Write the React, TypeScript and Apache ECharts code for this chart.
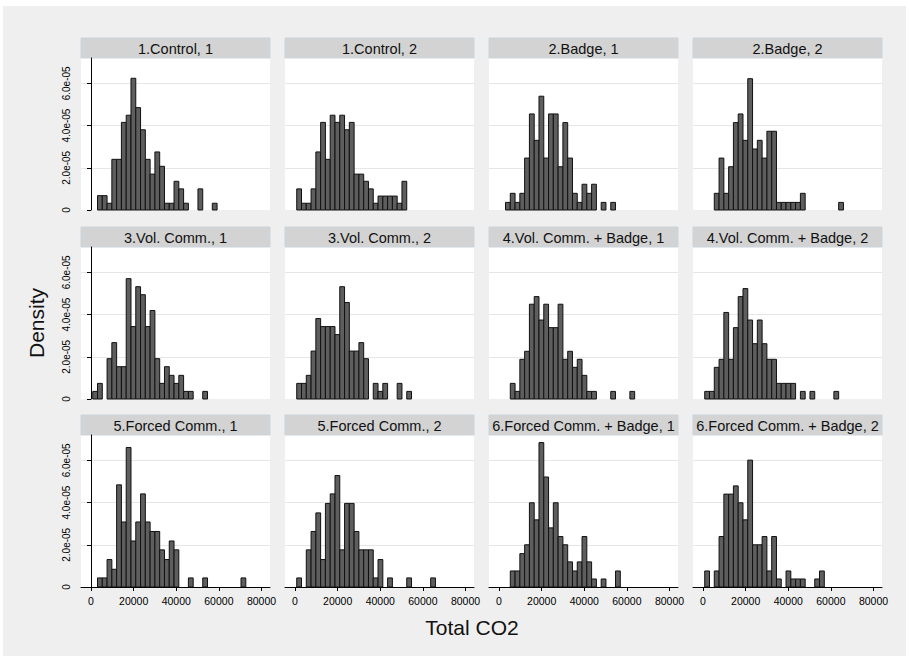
import React, { useEffect, useRef } from "react";
import * as echarts from "echarts";

// ---- Histogram definition (Total CO2), common bins for every panel ----
const BIN_START = 800;
const BIN_WIDTH = 2245;

const panelTitles = [
  "1.Control, 1",
  "1.Control, 2",
  "2.Badge, 1",
  "2.Badge, 2",
  "3.Vol. Comm., 1",
  "3.Vol. Comm., 2",
  "4.Vol. Comm. + Badge, 1",
  "4.Vol. Comm. + Badge, 2",
  "5.Forced Comm., 1",
  "5.Forced Comm., 2",
  "6.Forced Comm. + Badge, 1",
  "6.Forced Comm. + Badge, 2",
];

// index of the first bin listed for each panel
const firstBin = [1, 0, 1, 2, 0, 0, 2, 0, 1, 0, 2, 0];

// densities, in units of 1e-05, bin by bin
const control1 = [0.68, 0.68, 0.32, 2.4, 2.4, 4.15, 4.49, 6.24, 4.85, 3.8, 2.4, 1.7, 2.75, 2.07, 0.32, 0.32, 1.36, 1.0, 0.32, 0, 0, 1.0, 0, 0, 0.32];
const control2 = [1.0, 0.32, 0.32, 1.0, 2.75, 4.15, 2.4, 4.49, 4.15, 4.49, 3.8, 4.15, 1.7, 1.7, 1.36, 1.0, 0.32, 0.66, 0.66, 0.66, 0.66, 0.32, 1.36];
const badge1 = [0.36, 0.79, 0.36, 0.79, 2.46, 4.55, 3.3, 5.39, 2.46, 4.55, 4.55, 2.05, 4.14, 2.46, 0.79, 0.36, 1.22, 0.79, 1.22, 0, 0.36, 0, 0.36];
const badge2 = [0.79, 2.46, 0.79, 2.05, 4.14, 4.55, 3.3, 6.22, 2.89, 3.3, 2.46, 3.73, 3.73, 0.36, 0.36, 0.36, 0.36, 0.36, 0.79, 0, 0, 0, 0, 0, 0, 0, 0.36];
const volComm1 = [0.36, 0.74, 0, 1.91, 2.67, 1.53, 1.53, 5.7, 3.43, 5.32, 4.94, 3.43, 4.19, 1.91, 0.74, 1.53, 1.12, 0.74, 1.12, 0.36, 0.36, 0, 0, 0.36];
const volComm2 = [0.74, 0.74, 1.12, 2.27, 3.81, 3.43, 3.43, 3.43, 3.05, 5.32, 4.57, 2.27, 2.27, 2.67, 1.91, 0, 0.74, 0.36, 0.74, 0, 0, 0.74, 0, 0.36];
const volCommBadge1 = [0.74, 0.36, 1.88, 2.26, 4.49, 4.85, 3.74, 4.49, 3.38, 3.38, 4.49, 1.88, 2.26, 1.5, 1.88, 1.12, 0.36, 0.36, 0, 0, 0, 0.36, 0, 0, 0, 0.36];
const volCommBadge2 = [0.36, 0.36, 1.5, 1.88, 4.1, 1.88, 3.38, 4.85, 5.23, 3.74, 2.62, 3.74, 2.62, 1.88, 1.88, 0.74, 0.74, 0.74, 0.74, 0, 0.36, 0, 0.36, 0, 0, 0, 0, 0.36];
const forcedComm1 = [0.43, 0.43, 1.3, 0.84, 4.84, 3.08, 6.61, 2.18, 3.08, 4.41, 3.08, 2.63, 2.63, 1.76, 1.3, 2.18, 1.76, 0, 0, 0.43, 0, 0, 0.43, 0, 0, 0, 0, 0, 0, 0, 0.43];
const forcedComm2 = [0.43, 0, 1.76, 2.63, 3.51, 1.3, 3.96, 4.41, 5.28, 1.76, 3.96, 3.96, 2.63, 1.76, 1.76, 1.76, 0.43, 1.3, 0, 0.43, 0, 0, 0, 0.43, 0, 0, 0, 0, 0.43];
const forcedCommBadge1 = [0.76, 0.76, 1.58, 2.0, 3.99, 3.18, 6.84, 5.21, 2.8, 3.99, 2.39, 2.0, 1.19, 0.76, 1.19, 2.39, 1.19, 0.38, 0, 0.38, 0, 0, 0.76];
const forcedCommBadge2 = [0.76, 0, 0.76, 2.39, 4.4, 4.4, 4.79, 3.99, 3.18, 6.01, 2.0, 2.0, 2.39, 0.76, 2.39, 0.38, 0, 0.76, 0.38, 0.38, 0.38, 0, 0, 0.38, 0.76];

const panelDensities = [
  control1, control2, badge1, badge2,
  volComm1, volComm2, volCommBadge1, volCommBadge2,
  forcedComm1, forcedComm2, forcedCommBadge1, forcedCommBadge2,
];
const DENSITY_UNIT = 1e-5;

const xTickValues = [0, 20000, 40000, 60000, 80000];
const xTickLabels = ["0", "20000", "40000", "60000", "80000"];
const yTickValues = [0, 2e-5, 4e-5, 6e-5];
const yTickLabels = ["0", "2.0e-05", "4.0e-05", "6.0e-05"];

const xAxisTitle = "Total CO2";
const yAxisTitle = "Density";

// ---- layout / style ----
const X_MIN = -4700;
const X_MAX = 84000;
const Y_MAX = 7.2e-5;
const COL_LEFT = [81, 285, 489, 693];
const PANEL_W = 189;
const ROW_BASE = [210, 399, 587];
const PLOT_H = 152;
const HEADER_H = 20;
const FONT = "'Liberation Sans', Arial, Helvetica, sans-serif";
const BAR_FILL = "#5e5e5e";
const BAR_EDGE = "#111111";

function pickLabel(values: number[], labels: string[], v: number, eps: number) {
  const idx = values.findIndex((t) => Math.abs(t - v) < eps);
  return idx >= 0 ? labels[idx] : "";
}

export default function App() {
  const ref = useRef<HTMLDivElement | null>(null);

  useEffect(() => {
    if (!ref.current) return;
    const chart = echarts.init(ref.current, undefined, { renderer: "svg" });

    const grids: any[] = [];
    const xAxes: any[] = [];
    const yAxes: any[] = [];
    const series: any[] = [];
    const graphics: any[] = [
      {
        type: "rect",
        z: -1,
        silent: true,
        shape: { x: 3, y: 6, width: 903, height: 650 },
        style: { fill: "#efefef" },
      },
    ];

    panelTitles.forEach((title, i) => {
      const r = Math.floor(i / 4);
      const c = i % 4;
      const left = COL_LEFT[c];
      const top = ROW_BASE[r] - PLOT_H;

      grids.push({
        left,
        top,
        width: PANEL_W,
        height: PLOT_H,
        show: true,
        backgroundColor: "#ffffff",
        borderWidth: 0,
      });

      xAxes.push({
        gridIndex: i,
        type: "value",
        min: X_MIN,
        max: X_MAX,
        axisLine: { show: r === 2, onZero: false, lineStyle: { color: "#000", width: 1 } },
        axisTick: { show: r === 2, customValues: xTickValues, length: 4, lineStyle: { color: "#000" } },
        axisLabel: {
          show: r === 2,
          customValues: xTickValues,
          margin: 8,
          color: "#000",
          fontSize: 10.5,
          fontFamily: FONT,
          formatter: (v: number) => pickLabel(xTickValues, xTickLabels, v, 0.5),
        },
        splitLine: { show: false },
      });

      yAxes.push({
        gridIndex: i,
        type: "value",
        min: 0,
        max: Y_MAX,
        axisLine: { show: c === 0, lineStyle: { color: "#000", width: 1 } },
        axisTick: { show: c === 0, customValues: yTickValues, length: 4, lineStyle: { color: "#000" } },
        axisLabel: {
          show: c === 0,
          customValues: yTickValues,
          rotate: 90,
          margin: 10,
          color: "#000",
          fontSize: 10,
          fontFamily: FONT,
          formatter: (v: number) => pickLabel(yTickValues, yTickLabels, v, 1e-10),
        },
        splitLine: { show: true, showMinLine: false, lineStyle: { color: "#e6e6e6", width: 1 } },
      });

      const data = panelDensities[i]
        .map((d, j) => {
          const bin = firstBin[i] + j;
          return [BIN_START + bin * BIN_WIDTH, BIN_START + (bin + 1) * BIN_WIDTH, d * DENSITY_UNIT];
        })
        .filter((v) => v[2] > 0);

      series.push({
        type: "custom",
        name: title,
        xAxisIndex: i,
        yAxisIndex: i,
        data,
        encode: { x: [0, 1], y: 2 },
        renderItem: (_params: any, api: any) => {
          const p0 = api.coord([api.value(0), api.value(2)]);
          const p1 = api.coord([api.value(1), 0]);
          return {
            type: "rect",
            shape: { x: p0[0], y: p0[1], width: p1[0] - p0[0], height: p1[1] - p0[1] },
            style: { fill: BAR_FILL, stroke: BAR_EDGE, lineWidth: 1 },
          };
        },
      });

      graphics.push({
        type: "rect",
        silent: true,
        shape: { x: left, y: top - HEADER_H, width: PANEL_W, height: HEADER_H },
        style: { fill: "#d3d3d3", stroke: "#c8d4dc", lineWidth: 1 },
      });
      graphics.push({
        type: "text",
        silent: true,
        x: left + PANEL_W / 2,
        y: top - HEADER_H / 2 + 0.5,
        style: {
          text: title,
          align: "center",
          verticalAlign: "middle",
          fontSize: 14.5,
          fontFamily: FONT,
          fill: "#111",
        },
      });
    });

    graphics.push({
      type: "text",
      silent: true,
      x: 36,
      y: 323,
      rotation: Math.PI / 2,
      style: {
        text: yAxisTitle,
        align: "center",
        verticalAlign: "middle",
        fontSize: 21,
        fontFamily: FONT,
        fill: "#111",
      },
    });
    graphics.push({
      type: "text",
      silent: true,
      x: 472,
      y: 627,
      style: {
        text: xAxisTitle,
        align: "center",
        verticalAlign: "middle",
        fontSize: 21,
        fontFamily: FONT,
        fill: "#111",
      },
    });

    chart.setOption({
      animation: false,
      backgroundColor: "#ffffff",
      grid: grids,
      xAxis: xAxes,
      yAxis: yAxes,
      series,
      graphic: { elements: graphics },
    });

    return () => chart.dispose();
  }, []);

  return (
    <div
      ref={ref}
      style={{ position: "absolute", left: 0, top: 0, width: 909, height: 662 }}
    />
  );
}
